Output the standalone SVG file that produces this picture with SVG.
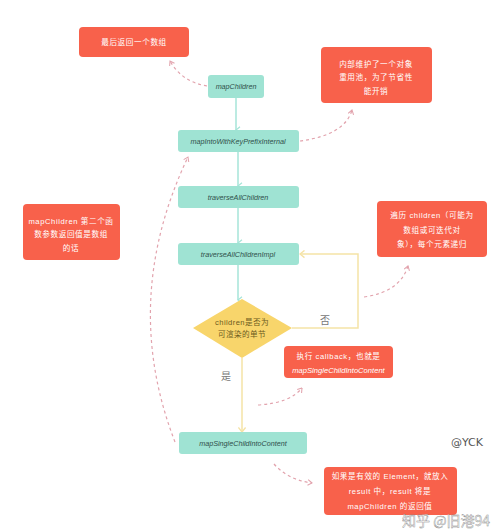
<svg xmlns="http://www.w3.org/2000/svg" width="500" height="529" viewBox="0 0 500 529">
<style>
.teal{fill:#9fe3d3;}
.red{fill:#f8614b;}
.tt{font-family:"Liberation Sans","Noto Sans CJK SC",sans-serif;font-style:italic;font-size:7.2px;fill:#2f4f4a;text-anchor:middle;}
.rt{font-family:"Liberation Sans","Noto Sans CJK SC",sans-serif;font-size:7.6px;fill:#fff;text-anchor:middle;letter-spacing:0.6px;}
.dt{font-family:"Liberation Sans","Noto Sans CJK SC",sans-serif;font-size:7.6px;fill:#6b5a20;text-anchor:middle;letter-spacing:0.4px;}
.lbl{font-family:"Noto Sans CJK SC",sans-serif;font-size:10px;fill:#777;text-anchor:middle;}
.tl{stroke:#a6e4d8;stroke-width:1.5;fill:none;}
.yl{stroke:#f5e3a6;stroke-width:1.5;fill:none;}
.dl{stroke:#e2a3ad;stroke-width:1.2;fill:none;stroke-dasharray:3 3;}
</style>
<defs>
<marker id="ta" viewBox="0 0 10 10" refX="5" refY="9" markerWidth="8" markerHeight="8" orient="auto-start-reverse" markerUnits="userSpaceOnUse">
<path d="M1,4 L5,9 L9,4" fill="none" stroke="#a6e4d8" stroke-width="1.5"/>
</marker>
<marker id="ya" viewBox="0 0 10 10" refX="9" refY="5" markerWidth="9" markerHeight="9" orient="auto" markerUnits="userSpaceOnUse">
<path d="M4,1 L9,5 L4,9" fill="none" stroke="#f5e3a6" stroke-width="1.5"/>
</marker>
<marker id="da" viewBox="0 0 10 10" refX="9" refY="5" markerWidth="7" markerHeight="7" orient="auto" markerUnits="userSpaceOnUse">
<path d="M3,1 L9,5 L3,9" fill="none" stroke="#e2a3ad" stroke-width="1.5"/>
</marker>
</defs>
<rect width="500" height="529" fill="#ffffff"/>

<g id="connectors">
<line class="tl" x1="236" y1="98" x2="236" y2="130" marker-end="url(#ta)"/>
<line class="tl" x1="238" y1="152" x2="238" y2="186" marker-end="url(#ta)"/>
<line class="tl" x1="238" y1="208" x2="238" y2="243" marker-end="url(#ta)"/>
<line class="tl" x1="238" y1="265" x2="238" y2="300" marker-end="url(#ta)"/>
<polyline class="yl" points="292,328 358,328 358,254 300,254" marker-end="url(#ya)"/>
<line class="yl" x1="242" y1="358" x2="242" y2="432" marker-end="url(#ya)"/>
<path class="dl" d="M207,86 Q182,82 170,61" marker-end="url(#da)"/>
<path class="dl" d="M300,141 Q345,135 352,110" marker-end="url(#da)"/>
<path class="dl" d="M175,442 Q120,300 188,157" marker-end="url(#da)"/>
<path class="dl" d="M364,297 Q400,292 408,266" marker-end="url(#da)"/>
<path class="dl" d="M258,405 Q290,403 302,388" marker-end="url(#da)"/>
<path class="dl" d="M274,464 Q288,480 312,483" marker-end="url(#da)"/>
</g>

<g id="n-return">
<rect class="red" x="79" y="27" width="110" height="30" rx="4"/>
<text class="rt" x="134" y="45">最后返回一个数组</text>
</g>
<g id="n-pool">
<rect class="red" x="321" y="47" width="111" height="56" rx="4"/>
<text class="rt" x="376" y="67">内部维护了一个对象</text>
<text class="rt" x="376" y="80">重用池，为了节省性</text>
<text class="rt" x="376" y="94">能开销</text>
</g>
<g id="n-mapChildren">
<rect class="teal" x="208" y="75" width="56" height="23" rx="3"/>
<text class="tt" x="236" y="89">mapChildren</text>
</g>
<g id="n-mapInto">
<rect class="teal" x="178" y="130" width="121" height="22" rx="3"/>
<text class="tt" x="238" y="143.5">mapIntoWithKeyPrefixInternal</text>
</g>
<g id="n-traverse">
<rect class="teal" x="178" y="186" width="121" height="22" rx="3"/>
<text class="tt" x="238" y="199.5">traverseAllChildren</text>
</g>
<g id="n-traverseImpl">
<rect class="teal" x="178" y="243" width="121" height="22" rx="3"/>
<text class="tt" x="238" y="256.5">traverseAllChildrenImpl</text>
</g>
<g id="n-note-left">
<rect class="red" x="23" y="204" width="97" height="56" rx="4"/>
<text class="rt" x="71" y="224">mapChildren 第二个函</text>
<text class="rt" x="71" y="237">数参数返回值是数组</text>
<text class="rt" x="71" y="251">的话</text>
</g>
<g id="n-note-right">
<rect class="red" x="377" y="201" width="110" height="56" rx="4"/>
<text class="rt" x="432" y="218">遍历 children（可能为</text>
<text class="rt" x="432" y="233">数组或可迭代对</text>
<text class="rt" x="432" y="247">象），每个元素递归</text>
</g>
<g id="n-decision">
<polygon points="242,299 292,328 242,358 193,328" fill="#f8d56b"/>
<text class="dt" x="242" y="325">children是否为</text>
<text class="dt" x="242" y="337">可渲染的单节</text>
</g>
<text class="lbl" x="325" y="324">否</text>
<text class="lbl" x="226" y="380">是</text>
<g id="n-callback">
<rect class="red" x="284" y="346" width="109" height="32" rx="4"/>
<text class="rt" x="338.5" y="359">执行 callback，也就是</text>
<text class="rt" x="338.5" y="373" style="font-style:italic;letter-spacing:0">mapSingleChildIntoContent</text>
</g>
<g id="n-mapSingle">
<rect class="teal" x="179" y="432" width="128" height="22" rx="3"/>
<text class="tt" x="243" y="445.5">mapSingleChildIntoContent</text>
</g>
<g id="n-result">
<rect class="red" x="324" y="467" width="133" height="48" rx="4"/>
<text class="rt" x="390" y="479">如果是有效的 Element，就放入</text>
<text class="rt" x="390" y="494">result 中，result 将是</text>
<text class="rt" x="390" y="509">mapChildren 的返回值</text>
</g>
<text x="467" y="446" font-family="'DejaVu Sans',sans-serif" font-size="11" fill="#555" text-anchor="middle">@YCK</text>
<text x="446" y="526" font-family="'Noto Sans CJK SC',sans-serif" font-size="14" fill="#ffffff" fill-opacity="0.85" stroke="#888" stroke-width="0.4" text-anchor="middle">知乎 @旧港94</text>
</svg>
